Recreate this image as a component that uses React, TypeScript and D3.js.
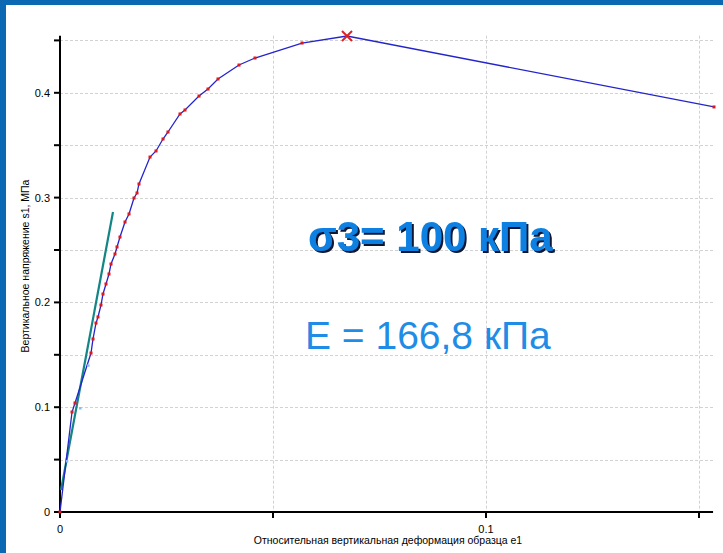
import React from "react";
import * as d3 from "d3";

// Measured stress–strain curve (strain e1, stress s1 in MPa)
const strain = [
  0, 0.00282, 0.00352, 0.00728, 0.00775, 0.00845, 0.00892, 0.00962, 0.01009, 0.0108,
  0.0115, 0.01197, 0.01291, 0.01338, 0.01408, 0.01526, 0.0162, 0.01737, 0.01808, 0.01854,
  0.02113, 0.02254, 0.02418, 0.02535, 0.02817, 0.02934, 0.03263, 0.03474, 0.03709, 0.04202,
  0.04577, 0.05681, 0.06737, 0.15352,
];
const stress = [
  0, 0.0954, 0.104, 0.1517, 0.1651, 0.1803, 0.1861, 0.1975, 0.208, 0.2176,
  0.2271, 0.2366, 0.2462, 0.2529, 0.2624, 0.2767, 0.2844, 0.2996, 0.3044, 0.313,
  0.3387, 0.3445, 0.3559, 0.3626, 0.3798, 0.3836, 0.3969, 0.4036, 0.4132, 0.4265,
  0.4332, 0.4475, 0.4542, 0.3865,
];
// index of the peak (failure) point, marked with a cross
const peakIndex = 32;

// secondary readings (faint)
const auxStrain = [0.0016, 0.0047, 0.0066];
const auxStress = [0.0487, 0.0992, 0.14];

// tangent line for the initial modulus
const tangentStrain = [0.00023, 0.01244];
const tangentStress = [0.021, 0.2863];

const yTicks = [0, 0.05, 0.1, 0.15, 0.2, 0.25, 0.3, 0.35, 0.4, 0.45];
const yLabels = ["0", "", "0.1", "", "0.2", "", "0.3", "", "0.4", ""];
const xTicks = [0, 0.05, 0.1, 0.15];
const xLabels = ["0", "", "0.1", ""];

const W = 723;
const H = 553;
const left = 60;
const bottom = 512;

export default function App() {
  const x = d3.scaleLinear().domain([0, 0.1]).range([left, 486]);
  const y = d3.scaleLinear().domain([0, 0.1]).range([bottom, 407.2]);
  const xMax = 0.1533;
  const yMax = 0.4545;
  const right = x(xMax);
  const top = y(yMax);

  const line = d3
    .line<number>()
    .x((_, i) => x(strain[i]))
    .y((_, i) => y(stress[i]));

  const font = "'Liberation Sans', Arial, sans-serif";
  const px = x(strain[peakIndex]);
  const py = y(stress[peakIndex]);

  return (
    <svg
      width={W}
      height={H}
      style={{ position: "absolute", left: 0, top: 0, background: "#fff" }}
    >
      <defs>
        <filter id="shadow" x="-5%" y="-20%" width="115%" height="150%">
          <feDropShadow dx={2} dy={2} stdDeviation={0.6} floodColor="#0d1633" floodOpacity={1} />
        </filter>
      </defs>

      {/* frame */}
      <rect x={0} y={0} width={W} height={5} fill="#0b68b2" />
      <rect x={0} y={0} width={6} height={H} fill="#0b68b2" />

      {/* grid */}
      {yTicks.slice(1).map((t) => (
        <line
          key={"gy" + t}
          x1={left}
          x2={right}
          y1={Math.round(y(t)) + 0.5}
          y2={Math.round(y(t)) + 0.5}
          stroke="#d2d2d2"
          strokeDasharray="3,2"
        />
      ))}
      {xTicks.slice(1).map((t) => (
        <line
          key={"gx" + t}
          x1={Math.round(x(t)) + 0.5}
          x2={Math.round(x(t)) + 0.5}
          y1={top}
          y2={bottom}
          stroke="#d2d2d2"
          strokeDasharray="3,2"
        />
      ))}

      {/* axes */}
      <line x1={left} x2={left} y1={top} y2={bottom + 1} stroke="#000" strokeWidth={2} />
      <line x1={left - 1} x2={right} y1={bottom} y2={bottom} stroke="#000" strokeWidth={2} />
      {yTicks.map((t, i) => (
        <g key={"ty" + t}>
          <line x1={left - 6} x2={left} y1={y(t)} y2={y(t)} stroke="#000" strokeWidth={2} />
          {yLabels[i] && (
            <text
              x={left - 10}
              y={y(t) + 4}
              textAnchor="end"
              fontFamily={font}
              fontSize={11}
              fill="#000"
            >
              {yLabels[i]}
            </text>
          )}
        </g>
      ))}
      {xTicks.map((t, i) => (
        <g key={"tx" + t}>
          <line x1={x(t)} x2={x(t)} y1={bottom} y2={bottom + 6} stroke="#000" strokeWidth={2} />
          {xLabels[i] && (
            <text
              x={x(t)}
              y={bottom + 21}
              textAnchor="middle"
              fontFamily={font}
              fontSize={11}
              fill="#000"
            >
              {xLabels[i]}
            </text>
          )}
        </g>
      ))}
      <text
        x={388}
        y={544}
        textAnchor="middle"
        fontFamily={font}
        fontSize={10.5}
        fill="#000"
      >
        Относительная вертикальная деформация образца е1
      </text>
      <text
        transform={`translate(29,266) rotate(-90)`}
        textAnchor="middle"
        fontFamily={font}
        fontSize={10.5}
        fill="#000"
      >
        Вертикальное напряжение s1, МПа
      </text>

      {/* tangent */}
      <line
        x1={x(tangentStrain[0])}
        y1={y(tangentStress[0])}
        x2={x(tangentStrain[1])}
        y2={y(tangentStress[1])}
        stroke="#138585"
        strokeWidth={2.2}
      />

      {/* curve */}
      <path d={line(strain) ?? ""} fill="none" stroke="#2424cc" strokeWidth={1.3} />
      {auxStrain.map((s, i) => (
        <rect
          key={"a" + i}
          x={x(s) - 1}
          y={y(auxStress[i]) - 1}
          width={2.5}
          height={2.5}
          fill="#86bdf0"
        />
      ))}
      {strain.map((s, i) =>
        i === peakIndex ? null : (
          <rect
            key={"p" + i}
            x={x(s) - 1.5}
            y={y(stress[i]) - 1.5}
            width={3}
            height={3}
            fill="#e01818"
          />
        )
      )}
      <g stroke="#e02020" strokeWidth={2}>
        <line x1={px - 5} y1={py - 5} x2={px + 5} y2={py + 5} />
        <line x1={px - 5} y1={py + 5} x2={px + 5} y2={py - 5} />
      </g>

      {/* annotations */}
      <text
        x={308}
        y={251}
        fontFamily={font}
        fontWeight="bold"
        fontSize={42}
        fill="#0a80e2"
        filter="url(#shadow)"
      >
        σ3= 100 кПа
      </text>
      <text x={305} y={349} fontFamily={font} fontSize={39} fill="#1f8ce6">
        E = 166,8 кПа
      </text>
    </svg>
  );
}
